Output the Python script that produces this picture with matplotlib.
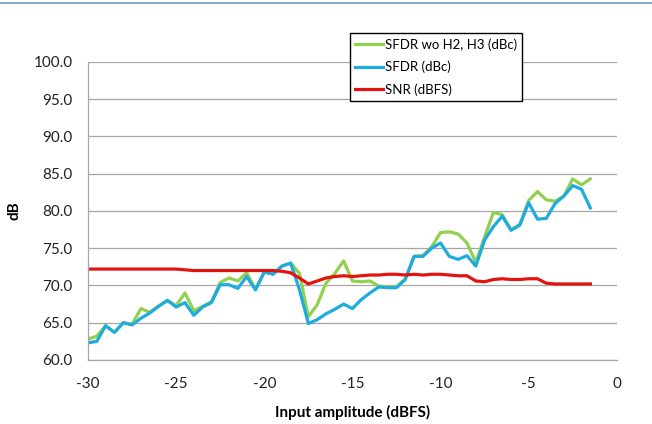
import matplotlib
matplotlib.use("Agg")
import matplotlib.pyplot as plt
from matplotlib.lines import Line2D

plt.rcParams['font.family'] = ['Lato', 'DejaVu Sans']
plt.rcParams['axes.unicode_minus'] = False

# input amplitude (dBFS)
amp = [-30.0, -29.5, -29.0, -28.5, -28.0, -27.5, -27.0, -26.5, -26.0, -25.5,
       -25.0, -24.5, -24.0, -23.5, -23.0, -22.5, -22.0, -21.5, -21.0, -20.5,
       -20.0, -19.5, -19.0, -18.5, -18.0, -17.5, -17.0, -16.5, -16.0, -15.5,
       -15.0, -14.5, -14.0, -13.5, -13.0, -12.5, -12.0, -11.5, -11.0, -10.5,
       -10.0, -9.5, -9.0, -8.5, -8.0, -7.5, -7.0, -6.5, -6.0, -5.5,
       -5.0, -4.5, -4.0, -3.5, -3.0, -2.5, -2.0, -1.5]

sfdr_wo = [62.8, 63.2, 64.6, 63.7, 65.0, 64.8, 66.9, 66.4, 67.2, 68.0,
           67.3, 69.0, 66.6, 67.2, 67.8, 70.4, 71.0, 70.6, 71.7, 69.5,
           71.8, 71.6, 72.6, 73.0, 71.6, 65.8, 67.4, 70.3, 71.6, 73.3,
           70.6, 70.5, 70.6, 69.9, 69.8, 69.8, 70.9, 73.9, 74.0, 75.2,
           77.1, 77.2, 76.9, 75.7, 73.1, 76.5, 79.8, 79.5, 77.5, 78.2,
           81.4, 82.6, 81.5, 81.3, 82.0, 84.3, 83.5, 84.3]

sfdr = [62.3, 62.5, 64.6, 63.7, 65.0, 64.7, 65.6, 66.3, 67.2, 68.0,
        67.1, 67.7, 66.0, 67.1, 67.7, 70.1, 70.1, 69.6, 71.2, 69.4,
        71.8, 71.5, 72.6, 73.0, 69.4, 64.9, 65.4, 66.2, 66.8, 67.5,
        66.9, 68.1, 69.0, 69.8, 69.7, 69.7, 70.8, 73.9, 73.9, 75.0,
        75.7, 73.9, 73.5, 74.0, 72.6, 76.1, 77.9, 79.3, 77.4, 78.1,
        81.1, 78.9, 79.0, 81.0, 82.0, 83.4, 82.9, 80.4]

snr = [72.2, 72.2, 72.2, 72.2, 72.2, 72.2, 72.2, 72.2, 72.2, 72.2,
       72.2, 72.1, 72.0, 72.0, 72.0, 72.0, 72.0, 72.0, 72.0, 72.0,
       72.0, 72.0, 71.9, 71.7, 71.0, 70.2, 70.6, 71.0, 71.2, 71.3,
       71.2, 71.3, 71.4, 71.4, 71.5, 71.5, 71.4, 71.5, 71.4, 71.5,
       71.5, 71.4, 71.3, 71.3, 70.6, 70.5, 70.8, 70.9, 70.8, 70.8,
       70.9, 70.9, 70.3, 70.2, 70.2, 70.2, 70.2, 70.2]

labels = ['SFDR wo H2, H3 (dBc)', 'SFDR (dBc)', 'SNR (dBFS)']
colors = ['#92D050', '#1EACE0', '#E3140F']

fig = plt.figure(figsize=(6.52, 4.24), dpi=100)
ax = fig.add_axes([0.135, 0.151, 0.811, 0.703])

# thin band line across the top of the picture
fig.add_artist(Line2D([0, 1], [0.993, 0.993], color='#8EA9C1', lw=1.5))

for ys, c in zip([sfdr_wo, sfdr, snr], colors):
    ax.plot(amp, ys, color=c, lw=2.3, solid_joinstyle='round')

ax.set_xlim(-30, 0)
ax.set_ylim(60, 100)
ax.set_xticks(range(-30, 1, 5))
ax.set_yticks(range(60, 101, 5))
ax.set_yticklabels([f'{v:.1f}' for v in range(60, 101, 5)])
ax.grid(axis='y', color='#A6A6A6', lw=0.9)
ax.set_axisbelow(True)
for s in ['top', 'right']:
    ax.spines[s].set_visible(False)
for s in ['left', 'bottom']:
    ax.spines[s].set_color('#A6A6A6')
    ax.spines[s].set_linewidth(0.9)
ax.tick_params(length=0, labelsize=11, colors='#222222')
ax.tick_params(axis='y', pad=11)
ax.tick_params(axis='x', pad=12)

ax.set_xlabel('Input amplitude (dBFS)', fontsize=11, fontweight='bold', labelpad=10)
ax.set_ylabel('dB', fontsize=11, fontweight='bold', labelpad=9)

handles = [Line2D([], [], color=c, lw=2.3) for c in colors]
leg = ax.legend(handles, labels, loc='upper left', bbox_to_anchor=(0.495, 1.097),
                frameon=True, fancybox=False, framealpha=1, edgecolor='black',
                fontsize=9.5, handlelength=2.1, handletextpad=0.15,
                borderpad=0.4, labelspacing=0.75, borderaxespad=0)
leg.get_frame().set_linewidth(1.0)

fig.savefig('out.png', dpi=100)
